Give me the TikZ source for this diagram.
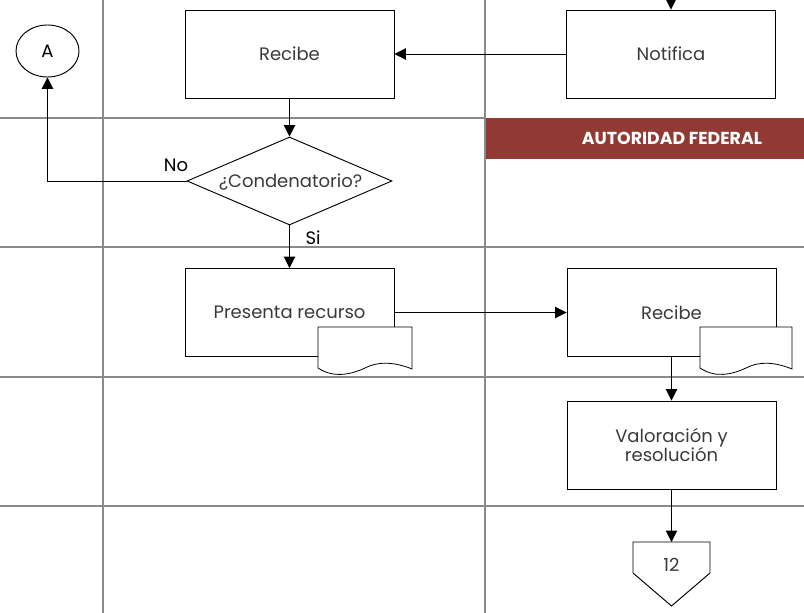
\documentclass[tikz,border=0pt]{standalone}
\usepackage{fontspec}
\setmainfont{Poppins}
\usetikzlibrary{arrows.meta,shapes.geometric}
\definecolor{bandred}{HTML}{913A33}
\definecolor{gridgray}{HTML}{8A8A8A}
\definecolor{txt}{HTML}{3A3A3A}
\newcommand\bodyfont{\fontsize{13.5}{14.5}\selectfont}
\tikzset{
  lane/.style={draw=gridgray,line width=1.2pt},
  procbox/.style={draw=black,line width=0.7pt,rectangle,minimum width={209*0.75pt},minimum height={88*0.75pt},text=txt,font=\bodyfont,align=center,inner sep=0pt},
  flow/.style={draw=black,line width=0.7pt,-{Triangle[length=8.5pt,width=8.5pt]}},
  plain/.style={draw=black,line width=0.7pt},
  lbl/.style={text=black,font=\bodyfont,inner sep=0pt},
  docshape/.style={draw=black,line width=0.6pt,fill=white}
}
\begin{document}
\begin{tikzpicture}[x=0.75pt,y=-0.75pt]
\useasboundingbox (0,0) rectangle (804,613);
% lanes
\fill[bandred] (485,118) rectangle (804,159);
\node[text=white,font=\bfseries\fontsize{13}{14}\selectfont,inner sep=0pt] (band) at (672,138) {AUTORIDAD FEDERAL};
\draw[lane] (103,0) -- (103,613);
\draw[lane] (485,0) -- (485,613);
\draw[lane] (0,118) -- (485,118);
\draw[lane] (0,247) -- (804,247);
\draw[lane] (0,377) -- (804,377);
\draw[lane] (0,506) -- (804,506);
% nodes
\node[procbox] (rec1) at (289.5,54) {Recibe};
\node[procbox] (notif) at (671,54) {Notifica};
\node[draw=black,line width=0.7pt,ellipse,minimum width={63*0.75pt},minimum height={52*0.75pt},inner sep=0pt,text=black,font=\bodyfont] (A) at (47.5,51) {A};
\node[draw=black,line width=0.7pt,diamond,minimum width={205*0.75pt},minimum height={88*0.75pt},inner sep=0pt] (dec) at (289.5,181) {};
\node[text=txt,font=\bodyfont,inner sep=0pt] (dectxt) at (290.5,182) {¿Condenatorio?};
\node[procbox] (pres) at (289.5,312.5) {Presenta recurso};
\node[procbox] (rec2) at (671.5,312.5) {Recibe};
\node[procbox] (val) at (671.5,445) {Valoración y\\resolución};
% document shapes
\draw[docshape] (318,327) -- (412,327) -- (412,369) .. controls (395,362) and (378,361) .. (365,368) .. controls (350,375) and (333,378) .. (318,368) -- cycle;
\draw[docshape] (700,327) -- (792,327) -- (792,369) .. controls (775,362) and (759,361) .. (746,368) .. controls (731,375) and (715,378) .. (700,368) -- cycle;
% off-page connector
\draw[plain] (633,542) -- (710,542) -- (710,573) -- (671.5,606) -- (633,573) -- cycle;
\node[text=txt,font=\bodyfont,inner sep=0pt] (off) at (671.5,565) {12};
\coordinate (offtop) at (671.5,542);
\coordinate (topin) at (671,0);
% connectors
\draw[flow] (topin) -- (notif.north);
\draw[flow] (notif.west) -- (rec1.east);
\draw[flow] (rec1.south) -- (dec.north);
\draw[flow] (dec.west) -| (A.south);
\draw[flow] (dec.south) -- (pres.north);
\draw[flow] (pres.east) -- (rec2.west);
\draw[flow] (rec2.south) -- (val.north);
\draw[flow] (val.south) -- (offtop);
% labels
\node[lbl] (no) at (176,165) {No};
\node[lbl] (si) at (313,238) {Si};
\end{tikzpicture}
\end{document}
